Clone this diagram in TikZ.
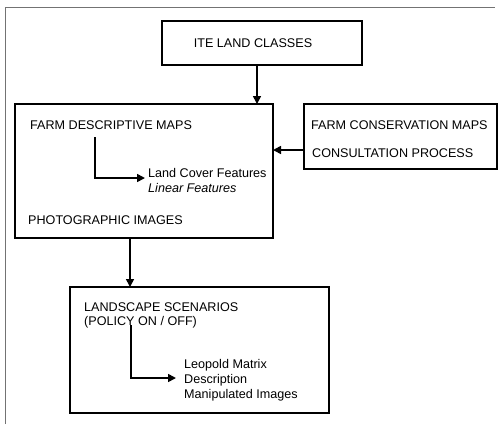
\documentclass[tikz,border=0pt]{standalone}
\usepackage{fontspec}
\setmainfont{Liberation Sans}
\usetikzlibrary{arrows.meta}
\begin{document}
\begin{tikzpicture}[x=1pt,y=-1pt,
  box/.style={draw=black,line width=1.4pt},
  lbl/.style={anchor=west,inner sep=0pt,font=\fontsize{12.6}{14}\selectfont},
  arr/.style={line width=1.6pt,-{Triangle[length=8pt,width=8pt]}},
  frame/.style={draw=black!55,line width=0.8pt}]
\useasboundingbox (0,0) rectangle (500,424);
\draw[frame] (5,424) -- (5,7) -- (495,7);
% boxes
\draw[box] (162,21) rectangle (362,65);
\node (ite) at (253,43) {\fontsize{12.6}{14}\selectfont ITE LAND CLASSES};
\coordinate (iteB) at (257,65);
\draw[box] (15,104) rectangle (273,238);
\coordinate (fdT) at (257,104);
\draw[box] (304,104) rectangle (497,169);
\draw[box] (70,287) rectangle (329,413);
% texts
\node[lbl] (fdm) at (30,125) {FARM DESCRIPTIVE MAPS};
\node[lbl] (lcf) at (148,173) {Land Cover Features};
\node[lbl] (lf) at (148,188) {\itshape Linear Features};
\node[lbl] (pi) at (28,220) {PHOTOGRAPHIC IMAGES};
\node[lbl] (fcm) at (311,125) {FARM CONSERVATION MAPS};
\node[lbl] (cp) at (312,153) {CONSULTATION PROCESS};
\node[lbl] (ls) at (84,307) {LANDSCAPE SCENARIOS};
\node[lbl] (pol) at (84,322) {(POLICY ON / OFF)};
\node[lbl] (lm) at (184,365) {Leopold Matrix};
\node[lbl] (de) at (184,380) {Description};
\node[lbl] (mi) at (184,395) {Manipulated Images};
% connectors
\coordinate (a1) at (95,137);
\coordinate (a2) at (95,178);
\coordinate (a3) at (145,178);
\coordinate (b1) at (304,150);
\coordinate (b2) at (273,150);
\coordinate (c1) at (130,238);
\coordinate (c2) at (130,287);
\coordinate (d1) at (131,325);
\coordinate (d2) at (131,378);
\coordinate (d3) at (176,378);
\draw[arr] (iteB) -- (fdT);
\draw[arr] (b1) -- (b2);
\draw[arr] (c1) -- (c2);
\draw[arr] (a1) -- (a2) -- (a3);
\draw[arr] (d1) -- (d2) -- (d3);
\end{tikzpicture}
\end{document}
